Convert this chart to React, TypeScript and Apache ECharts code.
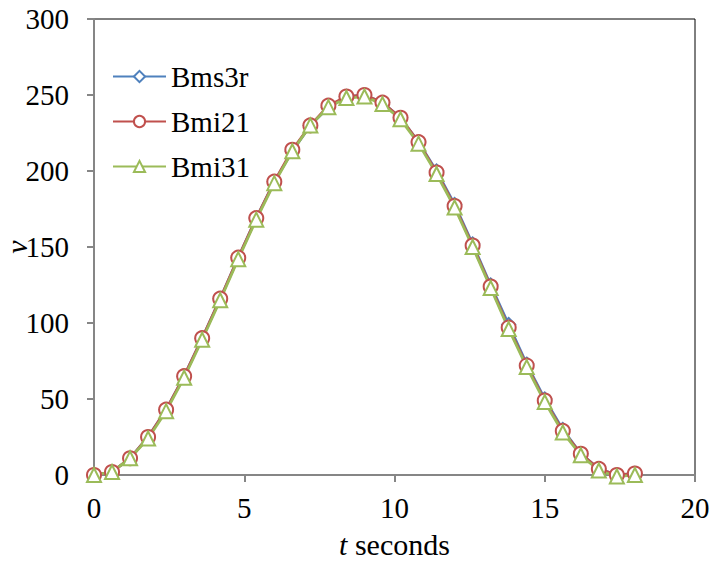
import React, { useEffect, useRef } from "react";
import * as echarts from "echarts";

const tValues = [0, 0.6, 1.2, 1.8, 2.4, 3.0, 3.6, 4.2, 4.8, 5.4, 6.0, 6.6, 7.2, 7.8, 8.4, 9.0, 9.6, 10.2, 10.8, 11.4, 12.0, 12.6, 13.2, 13.8, 14.4, 15.0, 15.6, 16.2, 16.8, 17.4, 18.0];
const bms3r = [0, 2, 11, 25, 43, 65, 90, 116, 143, 169, 193, 213, 230, 242, 249, 250, 245, 235, 219, 200, 178, 152, 125, 99, 73, 50, 30, 14, 4, 0, 1];
const bmi21 = [0, 2, 11, 25, 43, 65, 90, 116, 143, 169, 193, 214, 230, 243, 249, 250, 245, 235, 219, 199, 177, 151, 124, 97, 72, 49, 29, 14, 4, 0, 1];
const bmi31 = [0, 2, 11, 24, 42, 64, 89, 115, 142, 168, 192, 213, 230, 242, 248, 249, 244, 234, 218, 198, 176, 150, 123, 96, 71, 48, 28, 13, 3, -1, 0];
const seriesNames = ["Bms3r", "Bmi21", "Bmi31"];
const seriesColors = ["#4F81BD", "#C0504D", "#9BBB59"];
const seriesSymbols = ["emptyDiamond", "emptyCircle", "emptyTriangle"];
const xTicks = { min: 0, max: 20, interval: 5 };
const yTicks = { min: 0, max: 300, interval: 50 };

const FONT = "Liberation Serif";

export default function App() {
  const ref = useRef<HTMLDivElement>(null);
  useEffect(() => {
    if (!ref.current) return;
    const chart = echarts.init(ref.current, undefined, { renderer: "svg" });
    const datasets = [bms3r, bmi21, bmi31];
    chart.setOption({
      animation: false,
      backgroundColor: "#ffffff",
      textStyle: { fontFamily: FONT },
      grid: {
        left: 94,
        right: 18,
        top: 19,
        bottom: 87,
        show: true,
        borderColor: "#000000",
        borderWidth: 1,
        containLabel: false,
        outerBoundsMode: "none",
      },
      legend: {
        orient: "vertical",
        left: 107,
        top: 57,
        itemWidth: 53,
        itemHeight: 14,
        itemGap: 16,
        textStyle: { fontFamily: FONT, fontSize: 29, color: "#000" },
        data: seriesNames,
      },
      xAxis: {
        type: "value",
        min: xTicks.min,
        max: xTicks.max,
        interval: xTicks.interval,
        name: "{i|t} seconds",
        nameLocation: "middle",
        nameGap: 54,
        nameMoveOverlap: false,
        nameTextStyle: {
          fontFamily: FONT,
          fontSize: 30,
          color: "#000",
          rich: { i: { fontFamily: FONT, fontSize: 30, fontStyle: "italic", color: "#000" } },
        },
        axisLine: { show: true, lineStyle: { color: "#868686", width: 2 } },
        axisTick: { show: true, length: 7, lineStyle: { color: "#868686", width: 2 } },
        axisLabel: { fontFamily: FONT, fontSize: 29, color: "#000", margin: 18 },
        splitLine: { show: false },
      },
      yAxis: {
        type: "value",
        min: yTicks.min,
        max: yTicks.max,
        interval: yTicks.interval,
        name: "v",
        nameLocation: "middle",
        nameGap: 63,
        nameMoveOverlap: false,
        nameTextStyle: { fontFamily: FONT, fontSize: 30, fontStyle: "italic", color: "#000" },
        axisLine: { show: true, lineStyle: { color: "#868686", width: 2 } },
        axisTick: { show: true, length: 7, lineStyle: { color: "#868686", width: 2 } },
        axisLabel: { fontFamily: FONT, fontSize: 29, color: "#000", margin: 25 },
        splitLine: { show: false },
      },
      series: seriesNames.map((name, i) => ({
        name,
        type: "line",
        data: tValues.map((t, j) => [t, datasets[i][j]]),
        symbol: seriesSymbols[i],
        symbolSize: i === 0 ? 13 : 14,
        showAllSymbol: true,
        color: seriesColors[i],
        lineStyle: { color: seriesColors[i], width: 2.75 },
        itemStyle: { color: seriesColors[i], borderColor: seriesColors[i], borderWidth: 2 },
        clip: false,
      })),
    });
    return () => chart.dispose();
  }, []);
  return <div ref={ref} style={{ width: 713, height: 562, position: "absolute", left: 0, top: 0 }} />;
}
